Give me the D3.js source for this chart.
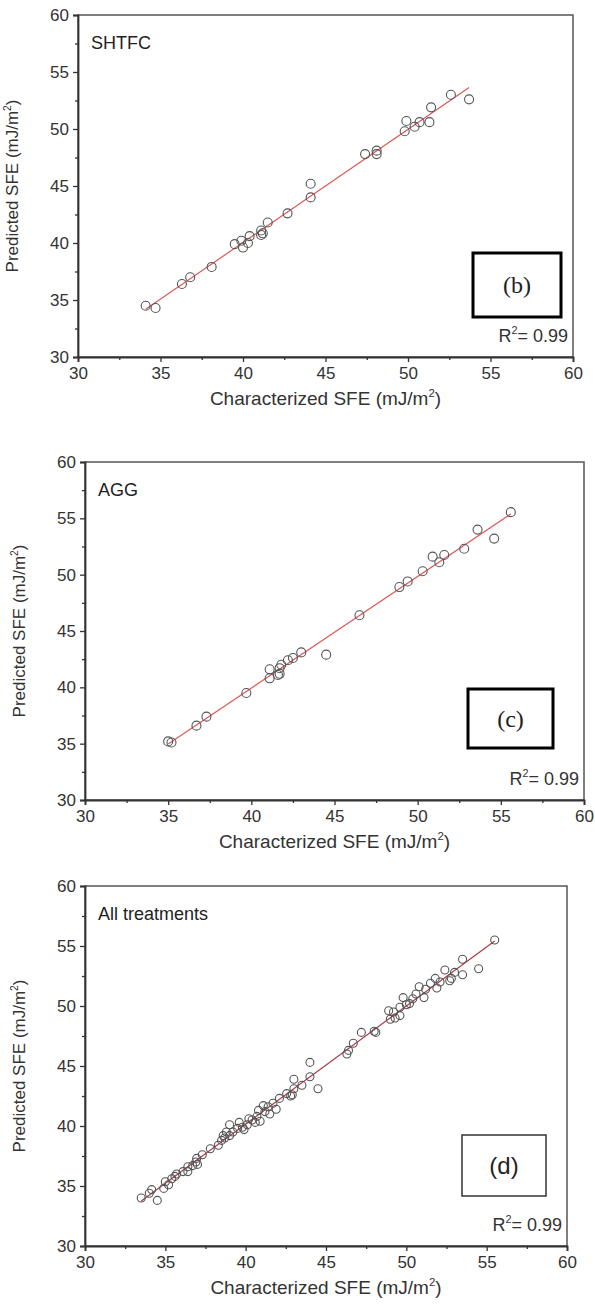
<!DOCTYPE html>
<html>
<head>
<meta charset="utf-8">
<script src="https://cdn.jsdelivr.net/npm/d3@7"></script>
<style>
  body { margin: 0; background: #fff; }
  svg { display: block; font-family: "Liberation Sans", Arial, sans-serif; }
</style>
</head>
<body>
<svg width="595" height="1308"></svg>
<script>
// axis ticks (same for x and y in every panel)
const majorTicks = [30, 35, 40, 45, 50, 55, 60];
const minorTicks = [32.5, 37.5, 42.5, 47.5, 52.5, 57.5];

// (b) SHTFC: characterized vs predicted SFE
const shtfcX = [34.1, 34.7, 36.3, 36.8, 38.1, 39.5, 39.9, 40.0, 40.4, 40.3, 41.1, 41.2, 41.1, 41.5,
  42.7, 44.1, 44.1, 47.4, 48.1, 48.1, 49.8, 49.9, 50.4, 50.7, 51.3, 51.4, 52.6, 53.7];
const shtfcY = [34.5, 34.3, 36.4, 37.0, 37.9, 39.9, 40.2, 39.6, 40.6, 40.0, 41.1, 40.85, 40.7, 41.8,
  42.6, 45.2, 44.0, 47.8, 48.1, 47.8, 49.8, 50.7, 50.2, 50.6, 50.6, 51.9, 53.0, 52.6];

// (c) AGG
const aggX = [35.0, 35.2, 36.7, 37.3, 39.7, 41.1, 41.1, 41.7, 41.7, 41.8, 42.2, 42.5, 43.0, 44.5,
  41.6, 46.5, 48.9, 49.4, 50.3, 50.9, 51.3, 51.6, 52.8, 53.6, 54.6, 55.6];
const aggY = [35.2, 35.1, 36.6, 37.4, 39.5, 41.6, 40.8, 41.2, 41.7, 42.0, 42.4, 42.6, 43.1, 42.9,
  41.1, 46.4, 48.9, 49.4, 50.3, 51.6, 51.1, 51.75, 52.3, 54.0, 53.2, 55.55];

// (d) all treatments
const allX = [55.5, 53.5, 54.5, 53.5, 52.8, 52.7, 52.4, 51.8, 51.5, 51.2, 50.8, 51.1, 50.6, 50.2,
  49.8, 49.6, 49.6, 49.2, 48.9, 49.0, 48.0, 47.2, 46.7, 46.4, 46.3, 44.0, 44.0, 44.5, 43.5, 43.0,
  43.0, 42.55, 42.1, 41.7, 41.1, 41.2, 40.8, 40.7, 40.2, 40.1, 39.6, 39.5, 39.0, 38.8, 38.6, 39.0,
  38.5, 38.3, 37.8, 37.3, 36.95, 36.7, 36.4, 36.1, 35.7, 35.4, 35.0, 34.9, 34.15, 34.0, 34.5, 33.5,
  41.5, 40.4, 39.9, 41.9, 42.8, 50.0, 48.1, 36.9, 35.2,
  38.7, 39.2, 39.8, 40.6, 41.4, 40.9, 37.0, 35.6, 36.4, 42.9, 51.9, 50.4, 49.3, 52.1, 53.0];
const allY = [55.5, 53.9, 53.1, 52.6, 52.3, 52.1, 53.0, 52.3, 51.9, 51.4, 51.6, 50.7, 51.0, 50.2,
  50.7, 49.9, 49.2, 49.5, 49.6, 48.9, 47.9, 47.8, 46.9, 46.3, 46.0, 45.3, 44.1, 43.1, 43.4, 43.9,
  43.1, 42.7, 42.3, 41.9, 41.7, 41.2, 41.3, 40.8, 40.6, 40.1, 40.3, 39.8, 40.1, 39.5, 39.2, 39.2,
  38.8, 38.4, 38.1, 37.6, 37.3, 36.7, 36.6, 36.2, 36.0, 35.6, 35.35, 34.8, 34.7, 34.4, 33.8, 34.0,
  41.0, 40.5, 39.7, 41.4, 42.5, 50.1, 47.8, 37.0, 35.1,
  39.0, 39.5, 39.9, 40.3, 41.6, 40.4, 36.8, 35.8, 36.2, 42.6, 51.5, 50.6, 49.0, 52.0, 52.8];

const panels = [
  { xs: shtfcX, ys: shtfcY, name: "SHTFC", tag: "(b)", left: 78, right: 573, top: 15, bottom: 357,
    box: [473, 253, 88, 64], boxStroke: 3, boxColor: "#000", tagFont: "Liberation Serif",
    r: 4.5, lineColor: "#dc5a58" },
  { xs: aggX, ys: aggY, name: "AGG", tag: "(c)", left: 85, right: 584, top: 462, bottom: 800,
    box: [468, 689, 85, 59], boxStroke: 3, boxColor: "#000", tagFont: "Liberation Serif",
    r: 4.5, lineColor: "#dc5a58" },
  { xs: allX, ys: allY, name: "All treatments", tag: "(d)", left: 85, right: 567, top: 886, bottom: 1246,
    box: [462, 1135, 84, 61], boxStroke: 1.5, boxColor: "#333", tagFont: "Liberation Sans",
    r: 4, lineColor: "#b03a44" }
];

const svg = d3.select("svg");

function addUnitText(sel, prefix) {
  sel.append("tspan").text(prefix + " (mJ/m");
  sel.append("tspan").attr("font-size", "0.6em").attr("dy", "-0.7em").text("2");
  sel.append("tspan").attr("dy", "0.42em").text(")");
}

panels.forEach((p) => {
  const g = svg.append("g");
  const x = d3.scaleLinear().domain([30, 60]).range([p.left, p.right]);
  const y = d3.scaleLinear().domain([30, 60]).range([p.bottom, p.top]);

  // frame
  g.append("rect")
    .attr("x", p.left).attr("y", p.top)
    .attr("width", p.right - p.left).attr("height", p.bottom - p.top)
    .attr("fill", "none").attr("stroke", "#555").attr("stroke-width", 1.5);

  // bottom axis
  g.append("g").attr("transform", `translate(0,${p.bottom})`)
    .call(d3.axisBottom(x).tickValues(majorTicks).tickSize(5).tickPadding(5).tickFormat(d3.format("d")));
  g.append("g").attr("transform", `translate(0,${p.bottom})`)
    .call(d3.axisBottom(x).tickValues(minorTicks).tickSize(3).tickFormat(""))
    .call((a) => a.select(".domain").remove());

  // left axis
  g.append("g").attr("transform", `translate(${p.left},0)`)
    .call(d3.axisLeft(y).tickValues(majorTicks).tickSize(5).tickPadding(4).tickFormat(d3.format("d")));
  g.append("g").attr("transform", `translate(${p.left},0)`)
    .call(d3.axisLeft(y).tickValues(minorTicks).tickSize(3).tickFormat(""))
    .call((a) => a.select(".domain").remove());

  g.selectAll(".domain").attr("stroke", "#333").attr("stroke-width", 1.8);
  g.selectAll(".tick line").attr("stroke", "#333").attr("stroke-width", 1.3);
  g.selectAll(".tick text").attr("font-size", 17).attr("fill", "#333")
    .attr("font-family", "Liberation Sans, Arial, sans-serif");

  // axis titles
  const xt = g.append("text")
    .attr("x", (p.left + p.right) / 2).attr("y", p.bottom + 48)
    .attr("text-anchor", "middle").attr("font-size", 19).attr("fill", "#333");
  addUnitText(xt, "Characterized SFE");

  const yt = g.append("text")
    .attr("transform", `translate(${p.left - 60},${(p.top + p.bottom) / 2}) rotate(-90)`)
    .attr("text-anchor", "middle").attr("font-size", 17).attr("fill", "#333");
  addUnitText(yt, "Predicted SFE");

  // fit line (least squares)
  const mx = d3.mean(p.xs), my = d3.mean(p.ys);
  const slope = d3.sum(p.xs, (v, i) => (v - mx) * (p.ys[i] - my)) / d3.sum(p.xs, (v) => (v - mx) * (v - mx));
  const icpt = my - slope * mx;
  const [xmin, xmax] = d3.extent(p.xs);
  g.append("line")
    .attr("x1", x(xmin)).attr("y1", y(slope * xmin + icpt))
    .attr("x2", x(xmax)).attr("y2", y(slope * xmax + icpt))
    .attr("stroke", p.lineColor).attr("stroke-width", 1.2);

  // points
  g.append("g").selectAll("circle")
    .data(p.xs.map((v, i) => [v, p.ys[i]]))
    .join("circle")
    .attr("cx", (d) => x(d[0])).attr("cy", (d) => y(d[1]))
    .attr("r", p.r)
    .attr("fill", "none").attr("stroke", "#555").attr("stroke-width", 1.1);

  // panel name
  g.append("text").attr("x", p.left + 13).attr("y", p.top + 34)
    .attr("font-size", 18).attr("fill", "#222").text(p.name);

  // tag box
  const [bx, by, bw, bh] = p.box;
  g.append("rect").attr("x", bx).attr("y", by).attr("width", bw).attr("height", bh)
    .attr("fill", "#fff").attr("stroke", p.boxColor).attr("stroke-width", p.boxStroke);
  g.append("text").attr("x", bx + bw / 2).attr("y", by + bh / 2 + 8)
    .attr("text-anchor", "middle").attr("font-size", 24).attr("font-family", p.tagFont)
    .attr("fill", "#222").text(p.tag);

  // R^2 label
  const rt = g.append("text").attr("x", p.right - 5).attr("y", p.bottom - 15)
    .attr("text-anchor", "end").attr("font-size", 18).attr("fill", "#333");
  rt.append("tspan").text("R");
  rt.append("tspan").attr("font-size", "0.6em").attr("dy", "-0.7em").text("2");
  rt.append("tspan").attr("dy", "0.42em").text("= 0.99");
});
</script>
</body>
</html>
